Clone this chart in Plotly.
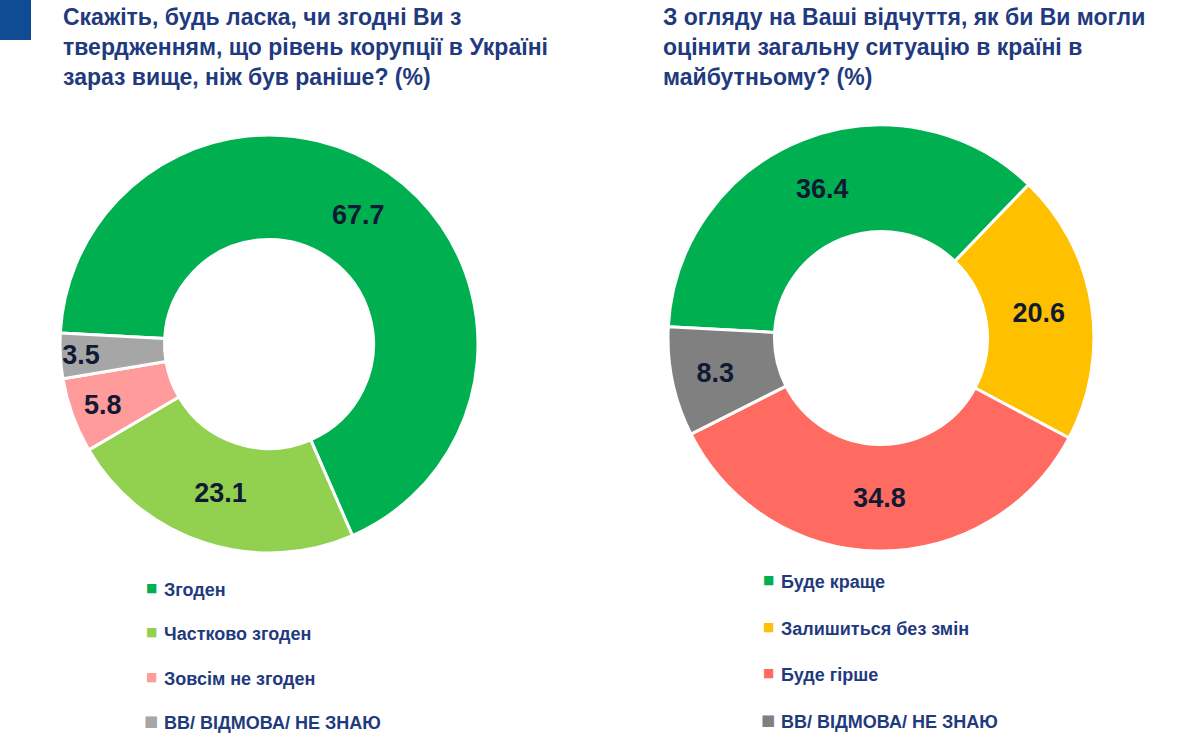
import plotly.graph_objects as go

# ---- data ----
left_title = "Скажіть, будь ласка, чи згодні Ви з<br>твердженням, що рівень корупції в Україні<br>зараз вище, ніж був раніше? (%)"
left_labels = ["Згоден", "Частково згоден", "Зовсім не згоден", "ВВ/ ВІДМОВА/ НЕ ЗНАЮ"]
left_values = [67.7, 23.1, 5.8, 3.5]
left_colors = ["#00B050", "#92D050", "#FF9B9B", "#A6A6A6"]

right_title = "З огляду на Ваші відчуття, як би Ви могли<br>оцінити загальну ситуацію в країні в<br>майбутньому? (%)"
right_labels = ["Буде краще", "Залишиться без змін", "Буде гірше", "ВВ/ ВІДМОВА/ НЕ ЗНАЮ"]
right_values = [36.4, 20.6, 34.8, 8.3]
right_colors = ["#00B050", "#FFC000", "#FF6B61", "#808080"]

W, H = 1197, 745
TITLE_C = "#1F3A7E"
LABEL_C = "#111a33"
FONT = "Liberation Sans, Arial, sans-serif"

fig = go.Figure()

def add_pie(labels, values, colors, dom_x, dom_y):
    fig.add_trace(go.Pie(
        labels=labels, values=values,
        marker=dict(colors=colors, line=dict(color="white", width=3)),
        hole=0.5, sort=False, direction="clockwise", rotation=273,
        texttemplate="%{value:.1f}", textinfo="value",
        textposition="inside", insidetextorientation="horizontal",
        textfont=dict(size=27, color=LABEL_C, family=FONT, weight="bold"),
        domain=dict(x=dom_x, y=dom_y), showlegend=False, hoverinfo="label+value",
    ))

add_pie(left_labels, left_values, left_colors, [60 / W, 478 / W], [1 - 553 / H, 1 - 135 / H])
add_pie(right_labels, right_values, right_colors, [668 / W, 1094 / W], [1 - 551 / H, 1 - 125 / H])

ann = []
# titles
for txt, x in [(left_title, 61), (right_title, 661)]:
    ann.append(dict(text="<b>" + txt + "</b>", x=x / W, y=1 - 2 / H, xref="paper", yref="paper",
                    xanchor="left", yanchor="top", align="left", showarrow=False,
                    font=dict(size=23, color=TITLE_C, family=FONT)))

# legends
def add_legend(labels, colors, x0, y_first, step):
    for i, (lab, col) in enumerate(zip(labels, colors)):
        y = y_first + i * step
        big = i == len(labels) - 1
        ann.append(dict(text="■", x=(x0 - 11) / W, y=1 - (y - 2) / H, xref="paper", yref="paper",
                        xanchor="center", yanchor="middle", showarrow=False,
                        font=dict(size=15 if big else 12, color=col, family="DejaVu Sans")))
        ann.append(dict(text="<b>" + lab + "</b>", x=x0 / W, y=1 - y / H, xref="paper", yref="paper",
                        xanchor="left", yanchor="middle", showarrow=False,
                        font=dict(size=18, color=TITLE_C, family=FONT)))

add_legend(left_labels, left_colors, 162, 590, 44.3)
add_legend(right_labels, right_colors, 779, 582, 46.5)

fig.update_layout(
    width=W, height=H, margin=dict(l=0, r=0, t=0, b=0),
    paper_bgcolor="white", plot_bgcolor="white",
    uniformtext=dict(minsize=27, mode="show"),
    annotations=ann,
    shapes=[dict(type="rect", xref="paper", yref="paper", x0=0, x1=31 / W, y0=1 - 40 / H, y1=1,
                 fillcolor="#0F4C93", line=dict(width=0))],
)

fig.write_html("out.html")
